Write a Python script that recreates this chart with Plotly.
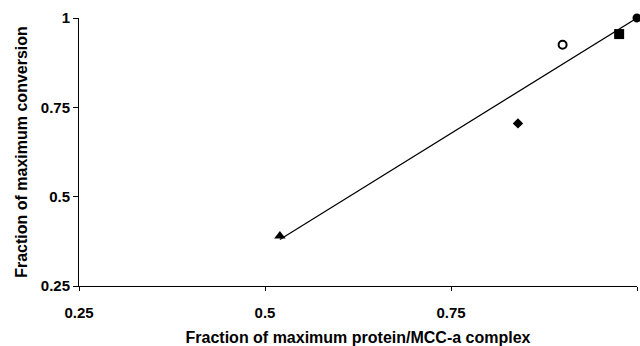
import plotly.graph_objects as go

# data
pt_labels = ["triangle", "diamond", "open circle", "square", "filled circle"]
x_vals = [0.52, 0.84, 0.90, 0.976, 1.0]
y_vals = [0.39, 0.705, 0.925, 0.955, 1.0]
trend_x = [0.52, 1.0]
trend_y = [0.38, 1.0]
tick_vals = [0.25, 0.5, 0.75, 1.0]
tick_text = ["0.25", "0.5", "0.75", "1"]

symbols = ["triangle-up", "diamond", "circle-open", "square", "circle"]
sizes = [10, 8, 8, 10, 9]

fig = go.Figure()
fig.add_trace(go.Scatter(x=trend_x, y=trend_y, mode="lines",
                         line=dict(color="black", width=1.2),
                         showlegend=False, hoverinfo="skip", cliponaxis=False))
for lab, xv, yv, sym, sz in zip(pt_labels, x_vals, y_vals, symbols, sizes):
    fig.add_trace(go.Scatter(
        x=[xv], y=[yv], mode="markers", name=lab,
        marker=dict(symbol=sym, size=sz, color="black",
                    line=dict(color="black", width=2 if sym == "circle-open" else 0)),
        showlegend=False, cliponaxis=False))

fam = "Liberation Sans, Arial, sans-serif"
tickfont = dict(family=fam, size=15, color="black")
titlefont = dict(family=fam, size=16, color="black")
bold_ticks = ["<b>%s</b>" % t for t in tick_text]
fig.update_layout(
    width=640, height=346,
    margin=dict(l=79, r=3, t=18, b=60),
    paper_bgcolor="white", plot_bgcolor="white",
    font=dict(family=fam, size=15, color="black"),
    xaxis=dict(range=[0.25, 1.0], tickvals=tick_vals, ticktext=bold_ticks,
               showgrid=False, zeroline=False, showline=True, linecolor="black",
               linewidth=1, ticks="outside", ticklen=4, tickcolor="black",
               tickfont=tickfont, ticklabelstandoff=9,
               title=dict(text="<b>Fraction of maximum protein/MCC-a complex</b>",
                          font=titlefont, standoff=12)),
    yaxis=dict(range=[0.25, 1.0], tickvals=tick_vals, ticktext=bold_ticks,
               showgrid=False, zeroline=False, showline=True, linecolor="black",
               linewidth=1, ticks="outside", ticklen=5, tickcolor="black",
               tickfont=tickfont,
               title=dict(text="<b>Fraction of maximum conversion</b>",
                          font=titlefont, standoff=9)),
)
fig.write_html("out.html")
